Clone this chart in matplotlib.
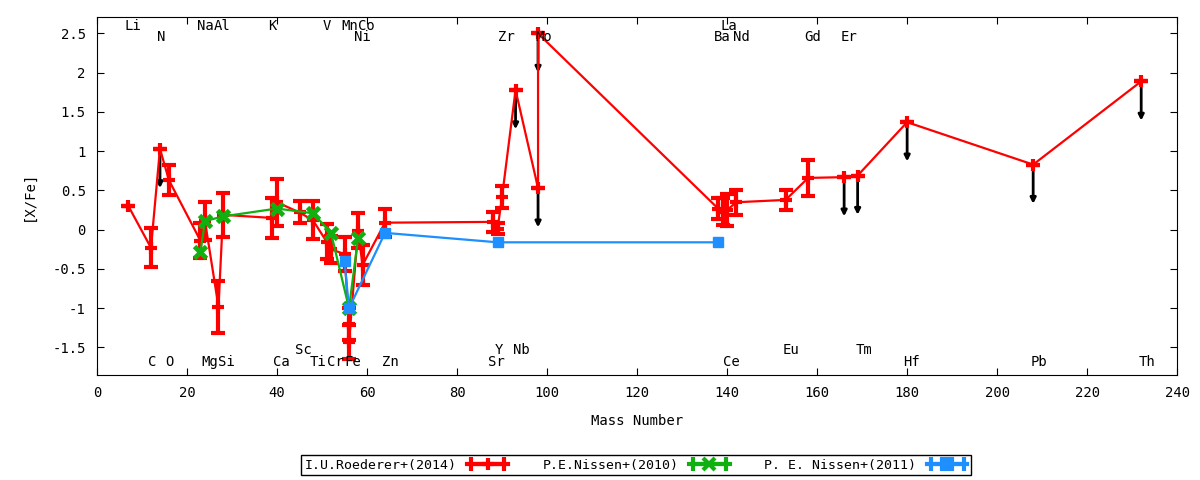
import matplotlib
matplotlib.use('Agg')
from matplotlib import pyplot as plt
from matplotlib.lines import Line2D
from matplotlib.legend_handler import HandlerLine2D, HandlerTuple
from matplotlib.ticker import FuncFormatter, MultipleLocator

plt.rcParams['font.family'] = ['DejaVu Sans Mono']
plt.rcParams['font.size'] = 10

# Roederer+(2014): mass number, [X/Fe], error, upper limit flag
red_x = [7, 12, 14, 16, 23, 24, 27, 28, 39, 40, 45, 48, 51, 52, 55, 56, 56, 58, 59, 64,
         88, 89, 90, 93, 98, 98, 138, 139, 140, 142, 153, 158, 166, 169, 180, 208, 232]
red_y = [0.30, -0.23, 1.03, 0.63, -0.14, 0.11, -0.98, 0.19, 0.15, 0.35, 0.22, 0.12, -0.15, -0.25,
         -0.31, -1.20, -1.43, -0.01, -0.45, 0.09, 0.10, 0.01, 0.42, 1.78, 0.53, 2.50,
         0.27, 0.23, 0.25, 0.35, 0.38, 0.66, 0.67, 0.69, 1.37, 0.83, 1.89]
red_err = [0.0, 0.25, 0.0, 0.19, 0.22, 0.24, 0.33, 0.28, 0.25, 0.30, 0.14, 0.24, 0.22, 0.17,
           0.22, 0.20, 0.22, 0.22, 0.26, 0.18, 0.13, 0.07, 0.14, 0.0, 0.0, 0.0,
           0.13, 0.17, 0.20, 0.16, 0.13, 0.23, 0.0, 0.0, 0.0, 0.0, 0.0]
red_lim = [0, 0, 1, 0, 0, 0, 0, 0, 0, 0, 0, 0, 0, 0, 0, 0, 0, 0, 0, 0,
           0, 0, 0, 1, 1, 1, 0, 0, 0, 0, 0, 0, 1, 1, 1, 1, 1]

# Nissen+(2010)
green_x = [23, 24, 28, 40, 48, 52, 56, 58]
green_y = [-0.28, 0.11, 0.17, 0.27, 0.21, -0.04, -1.00, -0.11]

# Nissen+(2011)
blue_x = [55, 56, 64, 89, 138]
blue_y = [-0.40, -1.00, -0.04, -0.16, -0.16]

labels = ['I.U.Roederer+(2014)', 'P.E.Nissen+(2010)', 'P. E. Nissen+(2011)']
colors = ['#ff0000', '#10b010', '#1e8fff']

# element labels: name, x position, row
top_names = ['Li', 'Na', 'Al', 'K', 'V', 'Mn', 'Co', 'La']
top_pos = [7.9, 24.0, 27.9, 39.0, 51.0, 56.2, 59.9, 140.3]
top2_names = ['N', 'Ni', 'Zr', 'Mo', 'Ba', 'Nd', 'Gd', 'Er']
top2_pos = [14.2, 59.0, 91.0, 99.2, 139.0, 143.1, 159.0, 167.1]
bot_names = ['C', 'O', 'Mg', 'Si', 'Ca', 'Ti', 'Cr', 'Fe', 'Zn', 'Sr', 'Ce', 'Hf', 'Pb', 'Th']
bot_pos = [12.2, 16.2, 25.1, 28.8, 41.0, 49.2, 53.0, 56.8, 65.1, 88.8, 141.0, 181.0, 209.2, 233.4]
bot2_names = ['Sc', 'Y', 'Nb', 'Eu', 'Tm']
bot2_pos = [45.8, 89.4, 94.2, 154.2, 170.4]

fig = plt.figure(figsize=(12, 4.8), dpi=100)
ax = fig.add_axes([0.0808, 0.2188, 0.9002, 0.7458])

# upper limit arrows (drawn under the data)
for x, y, lim in zip(red_x, red_y, red_lim):
    if lim:
        ax.annotate('', xy=(x, y - 0.5), xytext=(x, y),
                    arrowprops=dict(arrowstyle='-|>', color='black', lw=2,
                                    mutation_scale=8, shrinkA=0, shrinkB=0),
                    zorder=1)

ax.errorbar(red_x, red_y, yerr=red_err, color=colors[0], lw=1.6, marker='+', ms=9, mew=3,
            elinewidth=3, capsize=5, capthick=3, zorder=2)
ax.plot(green_x, green_y, color=colors[1], lw=1.6, marker='x', ms=8, mew=3.5, zorder=3)
ax.plot(blue_x, blue_y, color=colors[2], lw=1.6, marker='s', ms=7, zorder=4)

for names, pos, yy in [(top_names, top_pos, 2.59), (top2_names, top2_pos, 2.45),
                       (bot_names, bot_pos, -1.69), (bot2_names, bot2_pos, -1.53)]:
    for n, p in zip(names, pos):
        ax.text(p, yy, n, ha='center', va='center', zorder=5)

ax.set_xlim(0, 240)
ax.set_ylim(-1.85, 2.71)
ax.xaxis.set_major_locator(MultipleLocator(20))
ax.yaxis.set_major_locator(MultipleLocator(0.5))
ax.yaxis.set_major_formatter(FuncFormatter(lambda v, p: f'{v:g}'))
ax.tick_params(direction='in', length=5, top=True, right=True, pad=8)
ax.set_xlabel('Mass Number', labelpad=10)
ax.set_ylabel('[X/Fe]', labelpad=12)

# gnuplot-like legend samples: line with end caps and a marker in the middle
markers = ['+', 'x', 's']
handles = []
hmap = {}
for c, m in zip(colors, markers):
    caps = Line2D([], [], color=c, lw=3, marker='|', ms=10, mew=3)
    mid = Line2D([], [], color=c, lw=3, marker=m, ms=7 if m == 's' else 8, mew=3)
    hmap[caps] = HandlerLine2D(numpoints=2)
    hmap[mid] = HandlerLine2D(numpoints=1)
    handles.append((caps, mid))
hmap[tuple] = HandlerTuple(ndivide=1)

fig.legend(handles, labels, handler_map=hmap,
           loc='center', bbox_to_anchor=(0.53, 0.031), ncol=3, markerfirst=False,
           frameon=True, fancybox=False, edgecolor='black', framealpha=1,
           handlelength=3.1, handletextpad=0.8, columnspacing=2.6, borderpad=0.25, fontsize=9.5)

fig.savefig('out.png', dpi=100)
